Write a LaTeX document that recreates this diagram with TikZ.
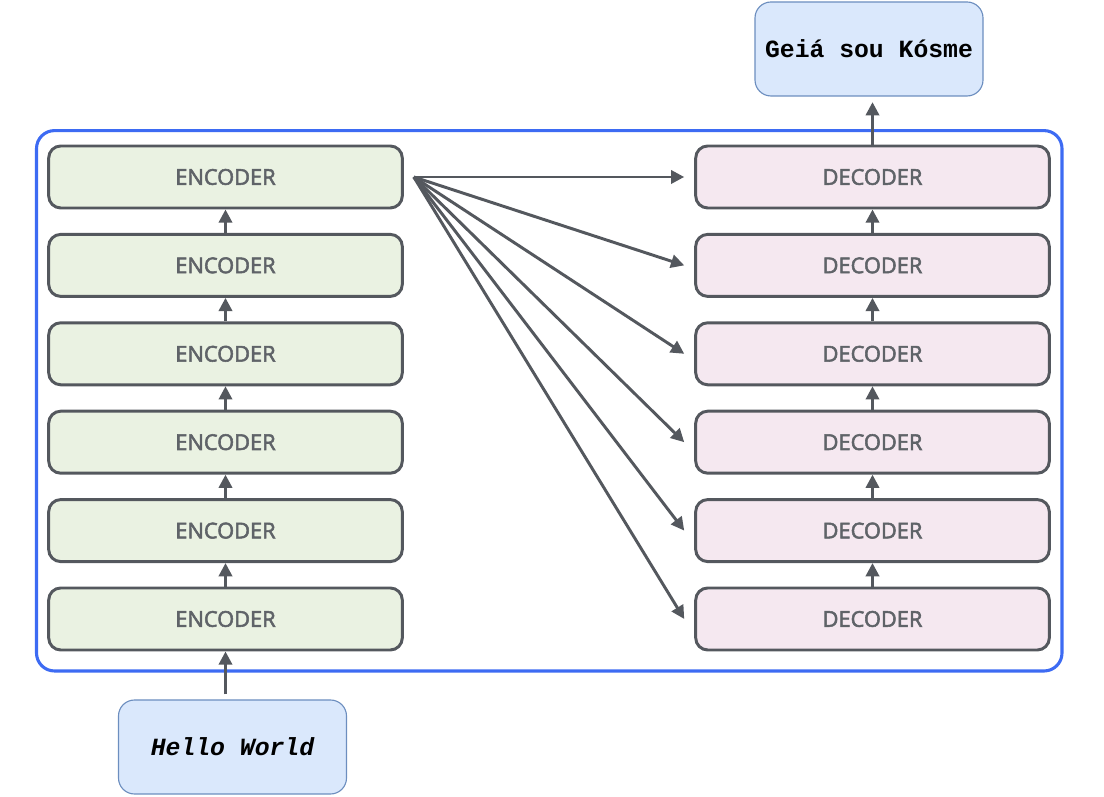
\documentclass[tikz,border=0pt]{standalone}
\usepackage{fontspec}
\usetikzlibrary{arrows.meta}
\newfontfamily\labelfont[FakeBold=2.5]{Open Sans}
\newfontfamily\codefont{Liberation Mono}
\definecolor{frameblue}{RGB}{61,107,243}
\definecolor{boxgray}{RGB}{84,88,94}
\definecolor{textgray}{RGB}{95,99,104}
\definecolor{encfill}{RGB}{234,242,226}
\definecolor{decfill}{RGB}{245,232,240}
\definecolor{iofill}{RGB}{218,232,252}
\definecolor{ioline}{RGB}{108,142,191}
\tikzset{
  layer/.style={draw=boxgray, line width=2.1pt, rounded corners=0.3cm,
    minimum width=8.84cm, minimum height=1.55cm, inner sep=0pt,
    text=textgray, font=\labelfont\fontsize{15.5}{18}\selectfont},
  encbox/.style={layer, fill=encfill},
  decbox/.style={layer, fill=decfill},
  iobox/.style={draw=ioline, line width=0.8pt, fill=iofill, rounded corners=0.4cm,
    minimum width=5.7cm, minimum height=2.35cm, inner sep=0pt,
    font=\codefont\bfseries\fontsize{17.6}{20}\selectfont},
  link/.style={-{Triangle[length=0.33cm,width=0.33cm]}, draw=boxgray, line width=2.1pt}
}
\begin{document}
\begin{tikzpicture}
    \useasboundingbox (0,0) rectangle (27.6,19.925);
    \draw[frameblue, line width=2.2pt, rounded corners=0.45cm] (0.9125,3.15) rectangle (26.55,16.66);
    % encoder stack
    \node[encbox] (enc1) at (5.6375,4.45) {ENCODER};
    \node[encbox] (enc2) at (5.6375,6.66) {ENCODER};
    \node[encbox] (enc3) at (5.6375,8.87) {ENCODER};
    \node[encbox] (enc4) at (5.6375,11.08) {ENCODER};
    \node[encbox] (enc5) at (5.6375,13.29) {ENCODER};
    \node[encbox] (enc6) at (5.6375,15.5) {ENCODER};
    % decoder stack
    \node[decbox] (dec1) at (21.8125,4.45) {DECODER};
    \node[decbox] (dec2) at (21.8125,6.66) {DECODER};
    \node[decbox] (dec3) at (21.8125,8.87) {DECODER};
    \node[decbox] (dec4) at (21.8125,11.08) {DECODER};
    \node[decbox] (dec5) at (21.8125,13.29) {DECODER};
    \node[decbox] (dec6) at (21.8125,15.5) {DECODER};
    \node[iobox] (inp) at (5.8125,1.25) {\itshape Hello World};
    \node[iobox] (outp) at (21.725,18.7) {Geiá sou Kósme};
    \draw[link, shorten <=0.125cm] (enc1.south |- inp.north) -- (enc1.south);
    \draw[link] (enc1) -- (enc2);
    \draw[link] (enc2) -- (enc3);
    \draw[link] (enc3) -- (enc4);
    \draw[link] (enc4) -- (enc5);
    \draw[link] (enc5) -- (enc6);
    \draw[link] (dec1) -- (dec2);
    \draw[link] (dec2) -- (dec3);
    \draw[link] (dec3) -- (dec4);
    \draw[link] (dec4) -- (dec5);
    \draw[link] (dec5) -- (dec6);
    \draw[link, shorten >=0.14cm] (dec6) -- (dec6 |- outp.south);
    % top encoder feeds every decoder
    \coordinate (fan) at ([xshift=0.25cm]enc6.east);
    \draw[link] (fan) -- ([xshift=-0.25cm]dec6.west);
    \draw[link] (fan) -- ([xshift=-0.25cm]dec5.west);
    \draw[link] (fan) -- ([xshift=-0.25cm]dec4.west);
    \draw[link] (fan) -- ([xshift=-0.25cm]dec3.west);
    \draw[link] (fan) -- ([xshift=-0.25cm]dec2.west);
    \draw[link] (fan) -- ([xshift=-0.25cm]dec1.west);
\end{tikzpicture}
\end{document}
